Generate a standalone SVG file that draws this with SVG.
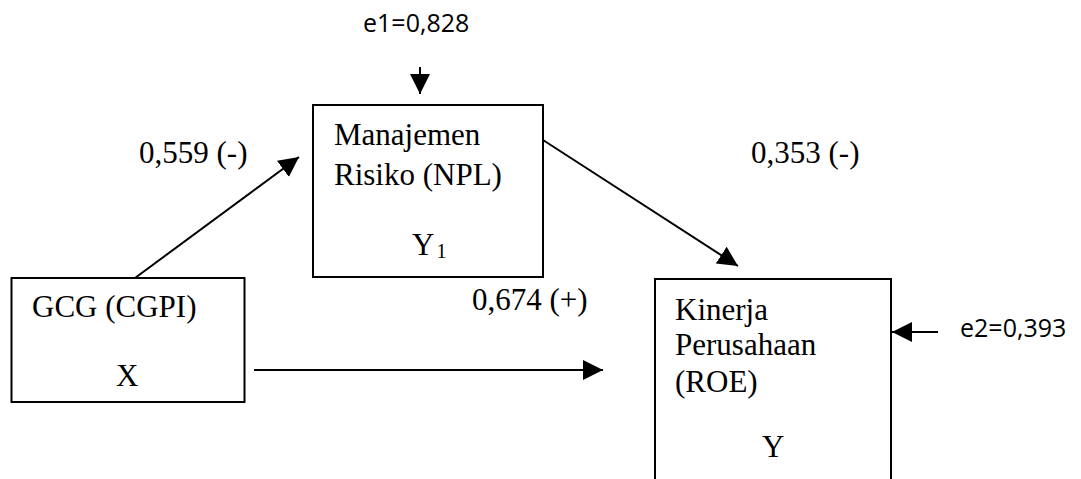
<svg xmlns="http://www.w3.org/2000/svg" width="1081" height="479" viewBox="0 0 1081 479">
  <style>
    .box { fill: #fff; stroke: #000; stroke-width: 2; }
    .t { font-family: "Liberation Serif", "Times New Roman", serif; font-size: 31px; fill: #000; }
    .s { font-family: "Open Sans", "Liberation Sans", sans-serif; font-size: 25px; fill: #000; }
    .c { stroke: #000; stroke-width: 2; fill: none; marker-end: url(#ah); }
  </style>
  <defs>
    <marker id="ah" markerUnits="userSpaceOnUse" markerWidth="22" markerHeight="22" refX="20" refY="10" orient="auto">
      <path d="M0,0 L20,10 L0,20 z" fill="#000"/>
    </marker>
  </defs>
  <rect width="1081" height="479" fill="#fff"/>

  <g id="node-manajemen">
    <rect class="box" x="313" y="105" width="230" height="172"/>
    <text class="t" x="334" y="145">Manajemen</text>
    <text class="t" x="334" y="185">Risiko (NPL)</text>
    <text class="t" x="412" y="255">Y<tspan font-size="20" dx="2" dy="3">1</tspan></text>
  </g>

  <g id="node-gcg">
    <rect class="box" x="11.5" y="278" width="233" height="124"/>
    <text class="t" x="32" y="317">GCG (CGPI)</text>
    <text class="t" x="116" y="386">X</text>
  </g>

  <g id="node-kinerja">
    <rect class="box" x="655" y="279" width="236" height="220"/>
    <text class="t" x="675" y="320">Kinerja</text>
    <text class="t" x="675" y="355">Perusahaan</text>
    <text class="t" x="675" y="392">(ROE)</text>
    <text class="t" x="762" y="457">Y</text>
  </g>

  <g id="connectors">
    <line class="c" x1="135" y1="278" x2="299" y2="157"/>
    <line class="c" x1="543" y1="140" x2="738" y2="266"/>
    <line class="c" x1="254" y1="370" x2="603" y2="370"/>
    <line class="c" x1="420" y1="67" x2="420" y2="94"/>
    <line class="c" x1="938" y1="332" x2="892" y2="332"/>
  </g>

  <g id="labels">
    <text class="t" x="139" y="163">0,559 (-)</text>
    <text class="t" x="751" y="163">0,353 (-)</text>
    <text class="t" x="472" y="310">0,674 (+)</text>
    <text class="s" x="363" y="32">e1=0,828</text>
    <text class="s" x="960" y="337">e2=0,393</text>
  </g>
</svg>
